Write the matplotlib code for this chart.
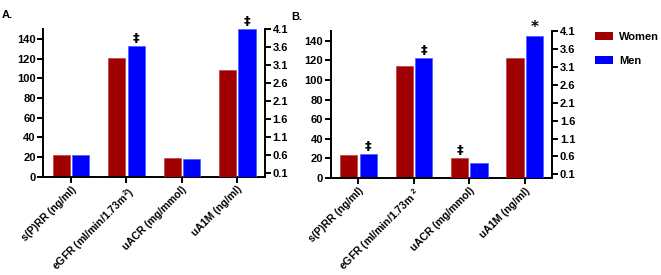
import numpy as np
import matplotlib
matplotlib.use("Agg")
import matplotlib.pyplot as plt
from matplotlib.patches import Patch

plt.rcParams['font.family'] = ['Liberation Sans', 'DejaVu Sans']
plt.rcParams['font.weight'] = 'bold'

# Data
categories_a = ["s(P)RR (ng/ml)", "eGFR (ml/min/1.73m$^{\\mathbf{2}}$)", "uACR (mg/mmol)", "uA1M (ng/ml)"]
categories_b = ["s(P)RR (ng/ml)", "eGFR (ml/min/1.73m $^{\\mathbf{2}}$", "uACR (mg/mmol)", "uA1M (ng/ml)"]
# which y axis each category is read against
axis_side = ["left", "left", "right", "right"]

women_a = [22.1, 120.8, 0.53, 2.96]
men_a = [22.1, 133.0, 0.50, 4.10]
women_b = [23.0, 114.4, 0.55, 3.35]
men_b = [24.3, 122.5, 0.41, 3.96]

# significance marks: (category index, group, symbol)
marks_a = [(1, "men", "‡"), (3, "men", "‡")]
marks_b = [(0, "men", "‡"), (1, "men", "‡"), (2, "women", "‡"), (3, "men", "*")]

left_ticks = [0, 20, 40, 60, 80, 100, 120, 140]
right_ticks = [0.1, 0.6, 1.1, 1.6, 2.1, 2.6, 3.1, 3.6, 4.1]

red = "#a00000"
blue = "#0000ff"

plt.rcParams['mathtext.fontset'] = 'custom'
plt.rcParams['mathtext.bf'] = 'Liberation Sans:bold'
plt.rcParams['mathtext.rm'] = 'Liberation Sans:bold'

fig = plt.figure(figsize=(6.61, 2.75), dpi=100)


def draw_panel(rect, cats, women, men, marks):
    ax = fig.add_axes(rect)
    ax2 = ax.twinx()
    ax.set_ylim(0, 150)
    ax2.set_ylim(0, 4.1)
    ax.set_xlim(-0.5, 3.5)
    x = np.arange(len(cats))
    w = 0.31
    off = 0.175
    tops = {}
    for i in x:
        target = ax if axis_side[i] == "left" else ax2
        target.bar(i - off, women[i], w, color=red, edgecolor="#c04040", linewidth=0.5)
        target.bar(i + off, men[i], w, color=blue, edgecolor="#4060ff", linewidth=0.5)
        tops[(i, "women")] = (target, i - off, women[i])
        tops[(i, "men")] = (target, i + off, men[i])
    for i, grp, sym in marks:
        target, xx, yy = tops[(i, grp)]
        target.annotate(sym, (xx, yy), xytext=(0, 1), textcoords="offset points",
                        ha="center", va="bottom", fontsize=9.5 if sym == "‡" else 11,
                        fontweight="bold", family=["DejaVu Sans"])
    ax.set_yticks(left_ticks)
    ax2.set_yticks(right_ticks)
    ax2.set_yticklabels([f"{t:.1f}" for t in right_ticks])
    ax.set_xticks(x)
    ax.set_xticklabels(cats, rotation=45, ha="right", va="top", rotation_mode="anchor",
                       fontsize=7.6, fontweight="bold")
    for a in (ax, ax2):
        a.spines["top"].set_visible(False)
        for s in a.spines.values():
            s.set_linewidth(1.4)
        a.tick_params(axis="y", width=1.4, length=4, labelsize=8, pad=1.5)
        a.tick_params(axis="x", width=1.4, length=4, pad=1.5)
    ax.spines["right"].set_visible(False)
    ax2.spines["left"].set_visible(False)
    ax2.spines["bottom"].set_visible(False)
    for lab in ax.get_yticklabels() + ax2.get_yticklabels():
        lab.set_fontweight("bold")
    return ax


draw_panel([0.0655, 0.3575, 0.3354, 0.536], categories_a, women_a, men_a, marks_a)
draw_panel([0.5003, 0.3527, 0.3353, 0.5345], categories_b, women_b, men_b, marks_b)

fig.text(0.003, 0.965, "A.", fontsize=8, fontweight="bold", va="top")
fig.text(0.441, 0.958, "B.", fontsize=8, fontweight="bold", va="top")

handles = [Patch(facecolor=red), Patch(facecolor=blue)]
fig.legend(handles, ["Women", "Men"], loc="upper left", bbox_to_anchor=(0.900, 0.885),
           frameon=False, prop={"size": 8, "weight": "bold"},
           handlelength=1.6, handleheight=0.75, labelspacing=1.3, handletextpad=0.6,
           borderpad=0, borderaxespad=0)

fig.savefig("out.png", dpi=100)
